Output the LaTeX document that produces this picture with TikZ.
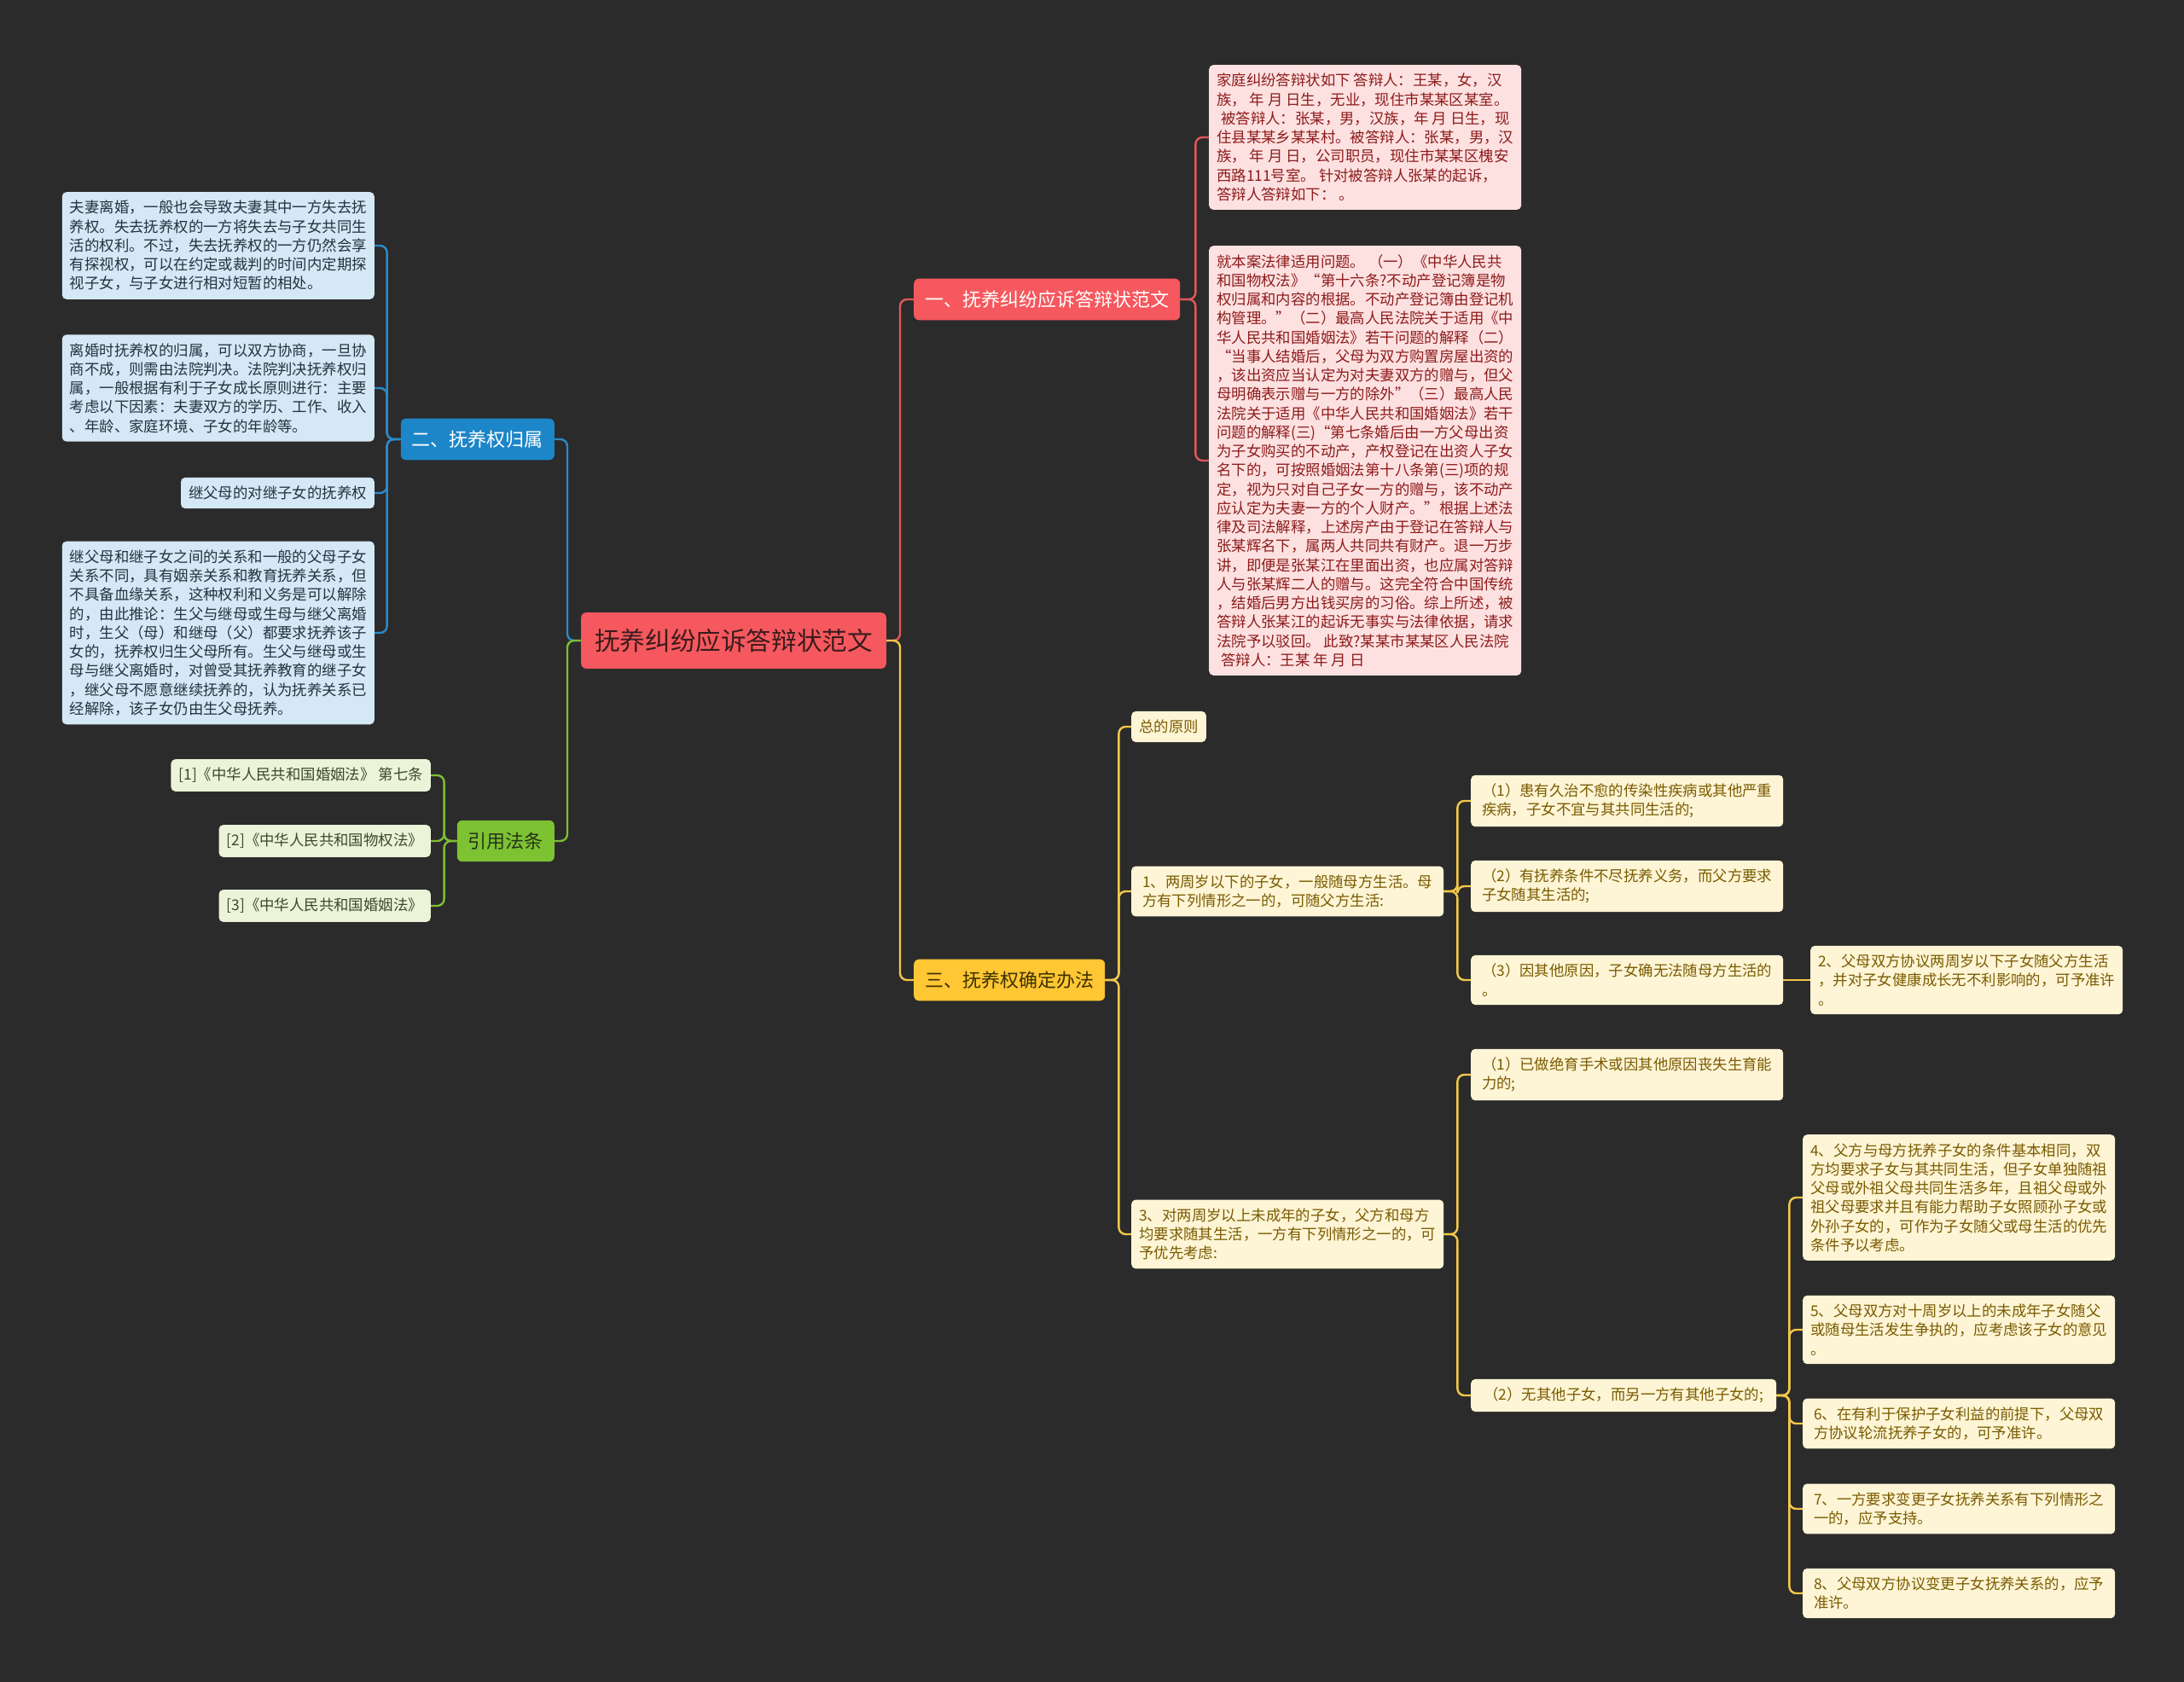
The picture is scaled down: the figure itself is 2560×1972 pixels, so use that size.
\documentclass[tikz,border=0pt]{standalone}
\usepackage{fontspec}
\setmainfont{Noto Sans CJK SC}
\usepackage{xcolor}
\usepackage{tikz}

\definecolor{bg}{HTML}{2B2B2B}
\definecolor{rootred}{HTML}{F5585E}
\definecolor{roottext}{HTML}{3A1C1C}
\definecolor{redline}{HTML}{E2575C}
\definecolor{pinkfill}{HTML}{FDE1E1}
\definecolor{pinktext}{HTML}{8E1B1B}
\definecolor{bluefill}{HTML}{1D86C8}
\definecolor{blueline}{HTML}{2A8ACB}
\definecolor{skyfill}{HTML}{D4E8F5}
\definecolor{skytext}{HTML}{24333F}
\definecolor{greenfill}{HTML}{7DC232}
\definecolor{greenline}{HTML}{7CBF33}
\definecolor{greentext}{HTML}{25341A}
\definecolor{leaffill}{HTML}{EBF3D8}
\definecolor{leaftext}{HTML}{3B4A2A}
\definecolor{gold}{HTML}{FEC733}
\definecolor{goldline}{HTML}{F3C84A}
\definecolor{goldtext}{HTML}{3D3000}
\definecolor{creamfill}{HTML}{FEF5D6}
\definecolor{creamtext}{HTML}{7A5B00}

\begin{document}
\begin{tikzpicture}[x=1pt,y=-1pt]
\tikzstyle{small} = [rectangle, rounded corners=5pt, align=left, inner xsep=9pt, inner ysep=10pt, font=\fontsize{17.4}{22.25}\selectfont]
\tikzstyle{wide} = [minimum width=366pt]
\tikzstyle{topic} = [rectangle, rounded corners=6pt, inner xsep=13pt, inner ysep=14pt, font=\fontsize{22}{26}\selectfont]
\tikzstyle{pinkbox} = [small, wide, fill=pinkfill, text=pinktext]
\tikzstyle{bluebox} = [small, fill=skyfill, text=skytext]
\tikzstyle{greenbox} = [small, fill=leaffill, text=leaftext]
\tikzstyle{yellowbox} = [small, fill=creamfill, text=creamtext]
\tikzstyle{link} = [line width=2.4pt, rounded corners=8pt]

\useasboundingbox (0,0) rectangle (2560,1972);
\fill [bg] (0,0) rectangle (2560,1972);

% centre and main branches
\node (root) [topic, fill=rootred, text=roottext, font=\fontsize{29.6}{34}\selectfont, inner xsep=16pt, inner ysep=19pt] at (860,751) {抚养纠纷应诉答辩状范文};
\node (answer) [topic, fill=rootred, text=white, anchor=west] at (1071,351) {一、抚养纠纷应诉答辩状范文};
\node (owner) [topic, fill=bluefill, text=white, anchor=east] at (650,515) {二、抚养权归属};
\node (cite) [topic, fill=greenfill, text=greentext, anchor=east] at (650,986) {引用法条};
\node (method) [topic, fill=gold, text=goldtext, anchor=west] at (1071,1149) {三、抚养权确定办法};

% answer text
\node (ans1) [pinkbox, anchor=west] at (1417,161) {家庭纠纷答辩状如下 答辩人：王某，女，汉\\族， 年 月 日生，无业，现住市某某区某室。\\\hspace*{5pt}被答辩人：张某，男，汉族，年 月 日生，现\\住县某某乡某某村。被答辩人：张某，男，汉\\族， 年 月 日，公司职员，现住市某某区槐安\\西路111号室。 针对被答辩人张某的起诉，\\答辩人答辩如下： 。};
\node (ans2) [pinkbox, anchor=west] at (1417,540) {就本案法律适用问题。 （一）《中华人民共\\和国物权法》“第十六条?不动产登记簿是物\\权归属和内容的根据。不动产登记簿由登记机\\构管理。”（二）最高人民法院关于适用《中\\华人民共和国婚姻法》若干问题的解释（二）\\“当事人结婚后，父母为双方购置房屋出资的\\，该出资应当认定为对夫妻双方的赠与，但父\\母明确表示赠与一方的除外”（三）最高人民\\法院关于适用《中华人民共和国婚姻法》若干\\问题的解释(三)“第七条婚后由一方父母出资\\为子女购买的不动产，产权登记在出资人子女\\名下的，可按照婚姻法第十八条第(三)项的规\\定，视为只对自己子女一方的赠与，该不动产\\应认定为夫妻一方的个人财产。”根据上述法\\律及司法解释，上述房产由于登记在答辩人与\\张某辉名下，属两人共同共有财产。退一万步\\讲，即便是张某江在里面出资，也应属对答辩\\人与张某辉二人的赠与。这完全符合中国传统\\，结婚后男方出钱买房的习俗。综上所述，被\\答辩人张某江的起诉无事实与法律依据，请求\\法院予以驳回。 此致?某某市某某区人民法院\\\hspace*{5pt}答辩人：王某 年 月 日};

% custody ownership
\node (own1) [bluebox, wide, anchor=east] at (439,288) {夫妻离婚，一般也会导致夫妻其中一方失去抚\\养权。失去抚养权的一方将失去与子女共同生\\活的权利。不过，失去抚养权的一方仍然会享\\有探视权，可以在约定或裁判的时间内定期探\\视子女，与子女进行相对短暂的相处。};
\node (own2) [bluebox, wide, anchor=east] at (439,455) {离婚时抚养权的归属，可以双方协商，一旦协\\商不成，则需由法院判决。法院判决抚养权归\\属，一般根据有利于子女成长原则进行：主要\\考虑以下因素：夫妻双方的学历、工作、收入\\、年龄、家庭环境、子女的年龄等。};
\node (own3) [bluebox, anchor=east] at (439,578) {继父母的对继子女的抚养权};
\node (own4) [bluebox, wide, anchor=east] at (439,742) {继父母和继子女之间的关系和一般的父母子女\\关系不同，具有姻亲关系和教育抚养关系，但\\不具备血缘关系，这种权利和义务是可以解除\\的，由此推论：生父与继母或生母与继父离婚\\时，生父（母）和继母（父）都要求抚养该子\\女的，抚养权归生父母所有。生父与继母或生\\母与继父离婚时，对曾受其抚养教育的继子女\\，继父母不愿意继续抚养的，认为抚养关系已\\经解除，该子女仍由生父母抚养。};

% cited laws
\node (law1) [greenbox, anchor=east] at (505,909) {[1]《中华人民共和国婚姻法》 第七条};
\node (law2) [greenbox, anchor=east] at (505,986) {[2]《中华人民共和国物权法》};
\node (law3) [greenbox, anchor=east] at (505,1062) {[3]《中华人民共和国婚姻法》};

% ways to decide custody
\node (rule) [yellowbox, anchor=west] at (1326,852) {总的原则};
\node (under2) [yellowbox, wide, anchor=west] at (1326,1045) {1、两周岁以下的子女，一般随母方生活。母\\方有下列情形之一的，可随父方生活:};
\node (over2) [yellowbox, wide, anchor=west] at (1326,1447) {3、对两周岁以上未成年的子女，父方和母方\\均要求随其生活，一方有下列情形之一的，可\\予优先考虑:};
\node (ua) [yellowbox, wide, anchor=west] at (1724,939) {（1）患有久治不愈的传染性疾病或其他严重\\疾病，子女不宜与其共同生活的;};
\node (ub) [yellowbox, wide, anchor=west] at (1724,1039) {（2）有抚养条件不尽抚养义务，而父方要求\\子女随其生活的;};
\node (uc) [yellowbox, wide, anchor=west] at (1724,1149) {（3）因其他原因，子女确无法随母方生活的\\。};
\node (agree) [yellowbox, wide, anchor=west] at (2122,1149) {2、父母双方协议两周岁以下子女随父方生活\\，并对子女健康成长无不利影响的，可予准许\\。};
\node (oa) [yellowbox, wide, anchor=west] at (1724,1260) {（1）已做绝育手术或因其他原因丧失生育能\\力的;};
\node (ob) [yellowbox, minimum width=358pt, anchor=west] at (1724,1636) {（2）无其他子女，而另一方有其他子女的;};
\node (r4) [yellowbox, wide, anchor=west] at (2113,1404) {4、父方与母方抚养子女的条件基本相同，双\\方均要求子女与其共同生活，但子女单独随祖\\父母或外祖父母共同生活多年，且祖父母或外\\祖父母要求并且有能力帮助子女照顾孙子女或\\外孙子女的，可作为子女随父或母生活的优先\\条件予以考虑。};
\node (r5) [yellowbox, wide, anchor=west] at (2113,1559) {5、父母双方对十周岁以上的未成年子女随父\\或随母生活发生争执的，应考虑该子女的意见\\。};
\node (r6) [yellowbox, wide, anchor=west] at (2113,1669) {6、在有利于保护子女利益的前提下，父母双\\方协议轮流抚养子女的，可予准许。};
\node (r7) [yellowbox, wide, anchor=west] at (2113,1769) {7、一方要求变更子女抚养关系有下列情形之\\一的，应予支持。};
\node (r8) [yellowbox, wide, anchor=west] at (2113,1868) {8、父母双方协议变更子女抚养关系的，应予\\准许。};

% connectors
\draw [link, redline] (root.east) -- ++(16,0) |- (answer.west);
\draw [link, goldline] (root.east) -- ++(16,0) |- (method.west);
\draw [link, blueline] (root.west) -- ++(-16,0) |- (owner.east);
\draw [link, greenline] (root.west) -- ++(-16,0) |- (cite.east);

\foreach \n in {ans1,ans2}
  \draw [link, redline] (answer.east) -- ++(18,0) |- (\n.west);
\foreach \n in {own1,own2,own3,own4}
  \draw [link, blueline] (owner.west) -- ++(-16,0) |- (\n.east);
\foreach \n in {law1,law2,law3}
  \draw [link, greenline] (cite.west) -- ++(-15,0) |- (\n.east);
\foreach \n in {rule,under2,over2}
  \draw [link, goldline] (method.east) -- ++(16,0) |- (\n.west);
\foreach \n in {ua,ub,uc}
  \draw [link, goldline] (under2.east) -- ++(16,0) |- (\n.west);
\draw [link, goldline] (uc.east) -- (agree.west);
\foreach \n in {oa,ob}
  \draw [link, goldline] (over2.east) -- ++(16,0) |- (\n.west);
\foreach \n in {r4,r5,r6,r7,r8}
  \draw [link, goldline] (ob.east) -- ++(15,0) |- (\n.west);

\end{tikzpicture}
\end{document}
